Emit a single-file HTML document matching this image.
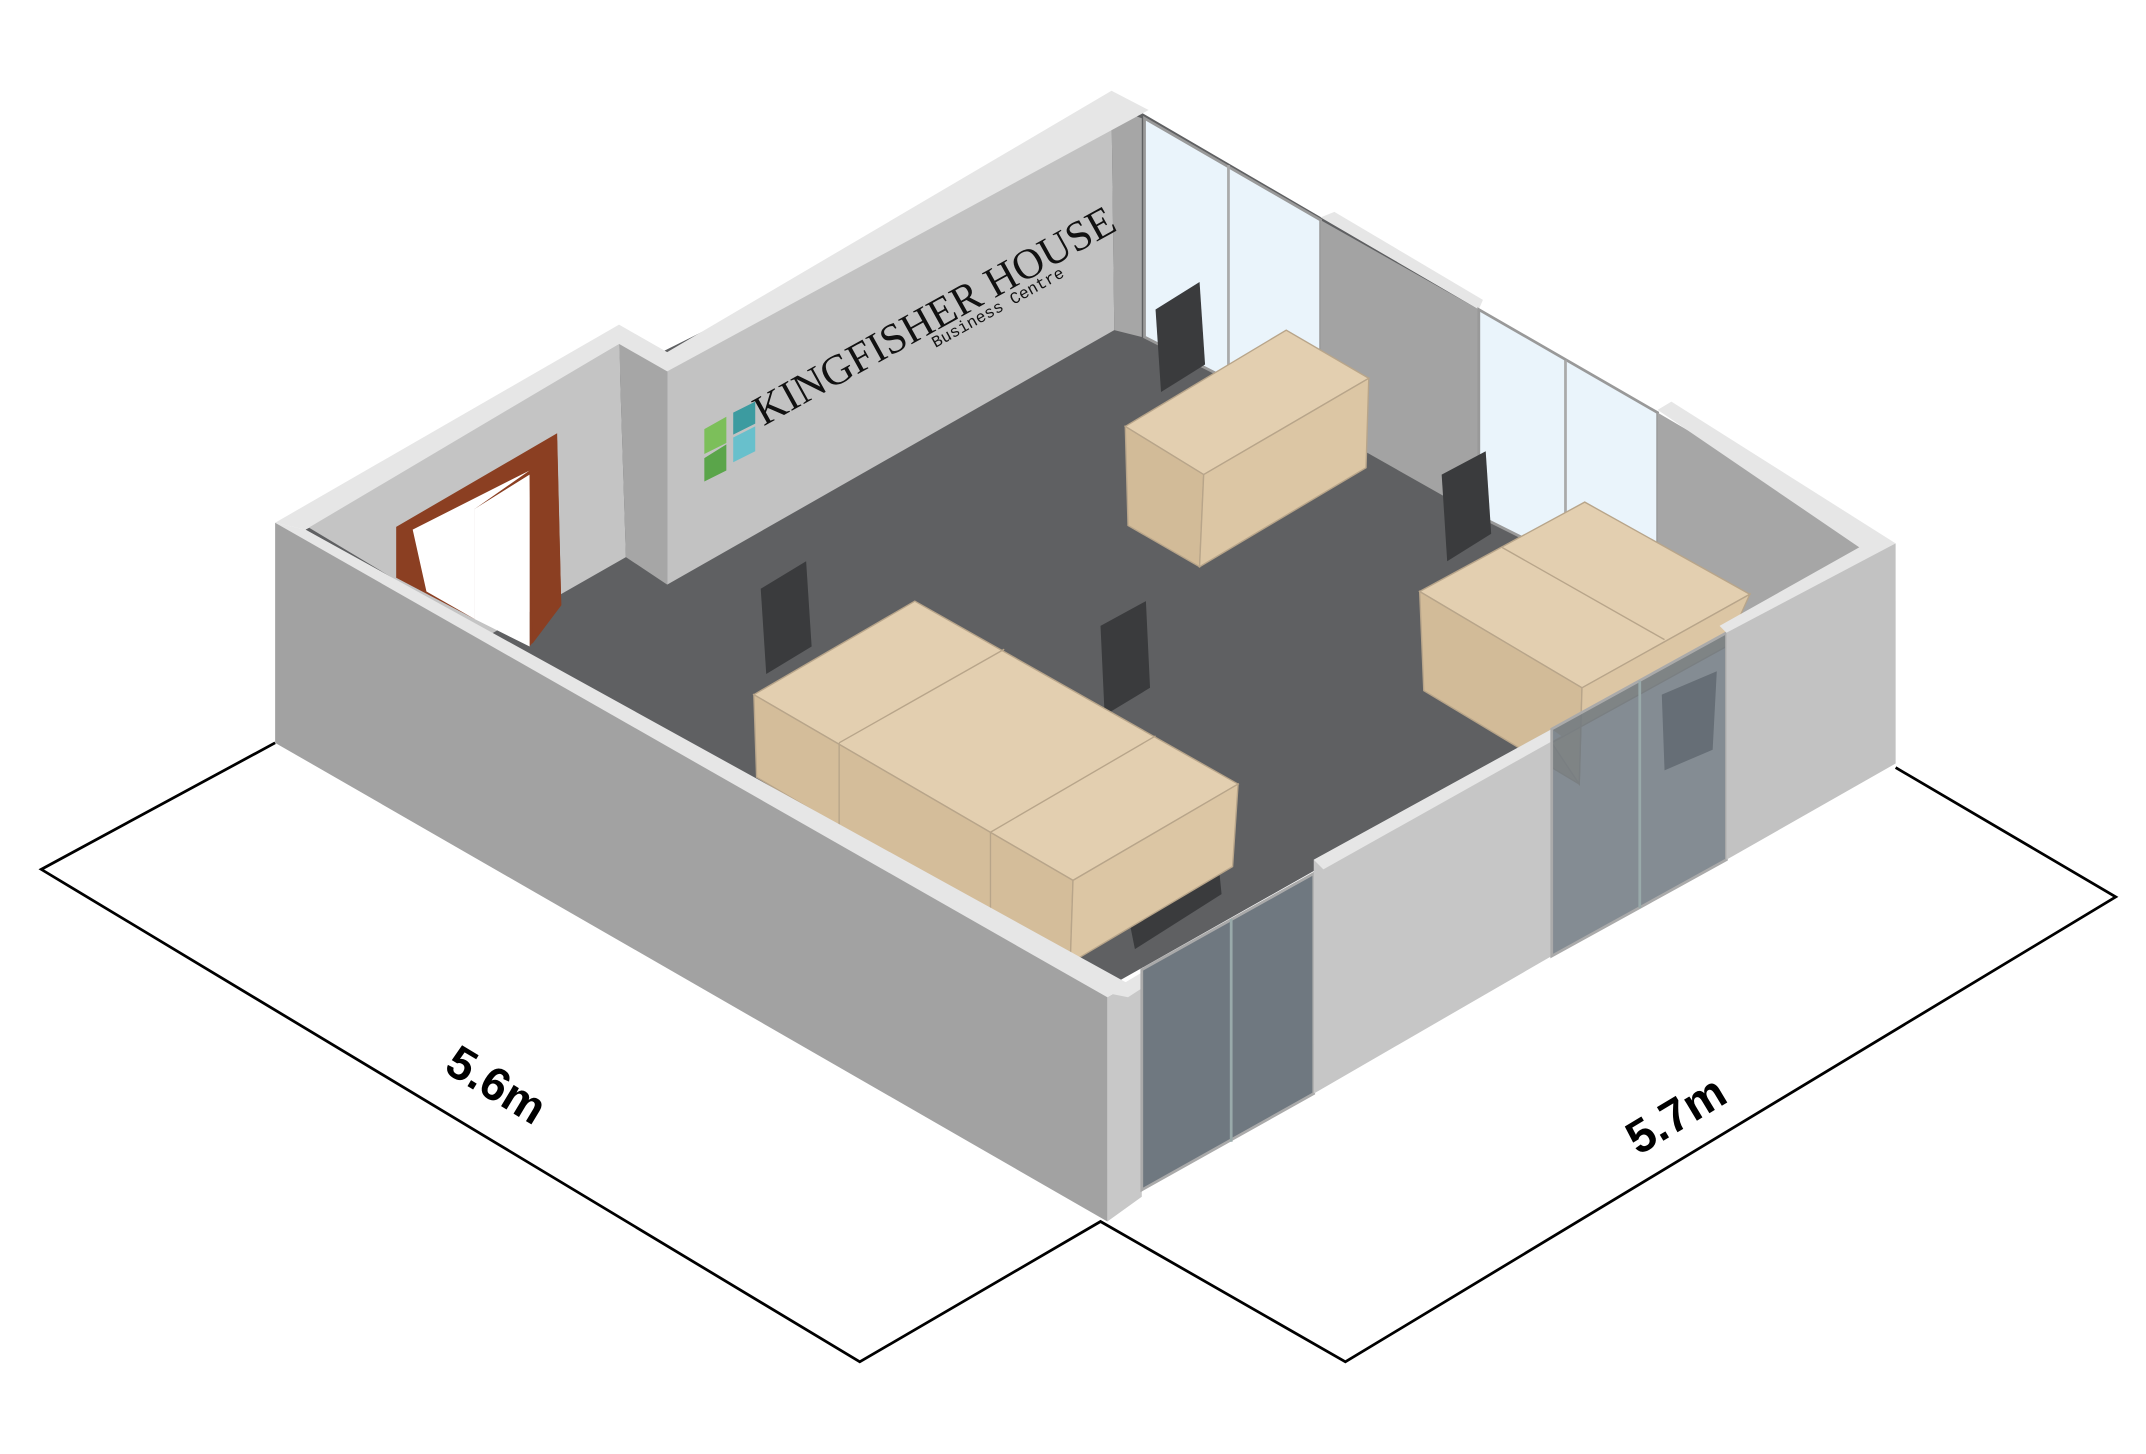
<!DOCTYPE html>
<html><head><meta charset="utf-8"><style>html,body{margin:0;padding:0;background:#fff}svg{display:block}</style></head>
<body>
<svg width="2146" height="1454" viewBox="0 0 1560 1057" preserveAspectRatio="none" xmlns="http://www.w3.org/2000/svg">
<rect width="1560" height="1057" fill="#fff"/>
<!-- dimension lines -->
<g stroke="#000" stroke-width="2" fill="none">
<polyline points="200,540 30,632 625,990 800,888 978,990 1538,652 1378,558"/>
</g>
<text x="360" y="800" font-family="Liberation Sans,sans-serif" font-weight="bold" font-size="34" text-anchor="middle" transform="rotate(31 360 790)">5.6m</text>
<text x="1218" y="822" font-family="Liberation Sans,sans-serif" font-weight="bold" font-size="34" text-anchor="middle" transform="rotate(-31 1218 810)">5.7m</text>
<!-- floor -->
<polygon points="222,385 830,82 1372,398 810,715" fill="#5f6062"/>
<!-- back-left walls inner faces -->
<polygon points="222,382 450,250 455,405 355,462" fill="#c4c4c4"/>
<polygon points="450,250 485,262 485,425 455,405" fill="#a6a6a6"/>
<polygon points="485,262 808,78 810,240 485,425" fill="#c2c2c2"/>
<polygon points="808,78 830,86 830,245 810,240" fill="#a6a6a6"/>
<!-- wall tops -->
<polygon points="200,380 450,236 485,256 808,66 835,80 485,270 450,250 222,385" fill="#e6e6e6"/>
<!-- right back: glass, wall, glass, wall -->
<polygon points="832,86 960,160 960,310 832,245" fill="#eaf4fb" stroke="#999" stroke-width="2"/>
<line x1="893" y1="120" x2="893" y2="280" stroke="#aaa" stroke-width="2"/>
<polygon points="960,160 1075,225 1075,375 960,310" fill="#a3a3a3"/>
<polygon points="960,158 970,154 1078,218 1075,225" fill="#e6e6e6"/>
<polygon points="1075,225 1205,300 1205,440 1075,375" fill="#eaf4fb" stroke="#999" stroke-width="2"/>
<line x1="1138" y1="262" x2="1138" y2="410" stroke="#aaa" stroke-width="2"/>
<polygon points="1205,300 1362,392 1362,460 1255,460 1205,440" fill="#a6a6a6"/>
<polygon points="1205,298 1215,292 1378,395 1362,405" fill="#e6e6e6"/>
<!-- door -->
<polygon points="288,383 405,315 408,440 385,470 385,345 345,370 345,450 288,420" fill="#8b3f22"/>
<polygon points="300,385 385,342 345,370 345,450 310,430" fill="#fff"/>
<polygon points="345,370 385,345 385,470 345,450" fill="#fff"/>
<polygon points="385,345 405,320 408,440 387,468" fill="#8b3f22"/>
<!-- logo -->
<polygon points="512,312 528,303 528,322 512,330" fill="#7cbf5a"/>
<polygon points="512,333 528,323 528,342 512,350" fill="#5aa54a"/>
<polygon points="533,300 549,292 549,308 533,316" fill="#3c9ba0"/>
<polygon points="533,318 549,310 549,328 533,336" fill="#68c0cc"/>
<text x="555" y="310" font-family="Liberation Serif,serif" font-size="31" fill="#111" transform="rotate(-29 555 310)">KINGFISHER HOUSE</text>
<text x="680" y="253" font-family="Liberation Mono,monospace" font-size="12" fill="#111" transform="rotate(-29 680 253)">Business Centre</text>
<!-- chairs -->
<g fill="#3a3b3d">
<polygon points="840,225 872,205 876,265 844,285"/>
<polygon points="1048,345 1080,328 1084,388 1052,408"/>
<polygon points="553,428 586,408 590,470 557,490"/>
<polygon points="800,455 833,437 836,500 803,520"/>
<polygon points="1208,505 1248,488 1245,545 1210,560"/>
<polygon points="605,585 635,600 640,620 605,605"/>
<polygon points="820,665 885,620 888,650 825,690"/>
</g>
<!-- desks -->
<g stroke="#b8a58a" stroke-width="1">
<polygon points="818,310 935,240 995,275 875,345" fill="#e3cfb0"/>
<polygon points="818,310 875,345 872,412 820,382" fill="#d2bb98"/>
<polygon points="875,345 995,275 993,340 872,412" fill="#dcc6a4"/>
<polygon points="1032,430 1152,365 1272,432 1150,500" fill="#e3cfb0"/>
<polygon points="1032,430 1150,500 1148,570 1035,502" fill="#d2bb98"/>
<polygon points="1150,500 1272,432 1255,470 1128,540 1148,570" fill="#dcc6a4"/>
<line x1="1092" y1="398" x2="1210" y2="465"/>
<polygon points="548,505 665,437 900,570 780,640" fill="#e3cfb0"/>
<polygon points="548,505 780,640 778,700 550,565" fill="#d4bd9a"/>
<polygon points="780,640 900,570 896,630 778,700" fill="#dcc6a4"/>
<line x1="610" y1="540" x2="730" y2="472"/>
<line x1="720" y1="605" x2="840" y2="535"/>
<line x1="610" y1="540" x2="610" y2="600"/>
<line x1="720" y1="605" x2="720" y2="665"/>
</g>
<!-- front-left wall -->
<polygon points="200,380 222,385 820,715 805,725" fill="#e6e6e6"/>
<polygon points="200,380 805,725 805,888 200,540" fill="#a2a2a2"/>
<!-- corner column -->
<polygon points="805,725 830,710 830,870 805,888" fill="#c8c8c8"/>
<polygon points="805,722 830,707 840,712 820,725" fill="#e6e6e6"/>
<!-- front right glass door -->
<polygon points="830,705 955,635 955,795 830,865" fill="#6f7880" stroke="#aaa" stroke-width="2"/>
<line x1="895" y1="668" x2="895" y2="830" stroke="#9aa" stroke-width="2"/>
<!-- front right wall -->
<polygon points="955,625 1128,530 1128,695 955,795" fill="#c6c6c6"/>
<polygon points="955,625 1128,530 1135,535 962,632" fill="#e6e6e6"/>
<!-- glass -->
<polygon points="1128,530 1255,460 1255,625 1128,695" fill="#6f7880" fill-opacity="0.85" stroke="#aaa" stroke-width="2"/>
<line x1="1192" y1="495" x2="1192" y2="660" stroke="#9aa" stroke-width="2"/>
<!-- end wall -->
<polygon points="1255,455 1378,395 1378,555 1255,625" fill="#c2c2c2"/>
<polygon points="1362,392 1378,395 1255,460 1250,455" fill="#e6e6e6"/>
</svg>
</body></html>
